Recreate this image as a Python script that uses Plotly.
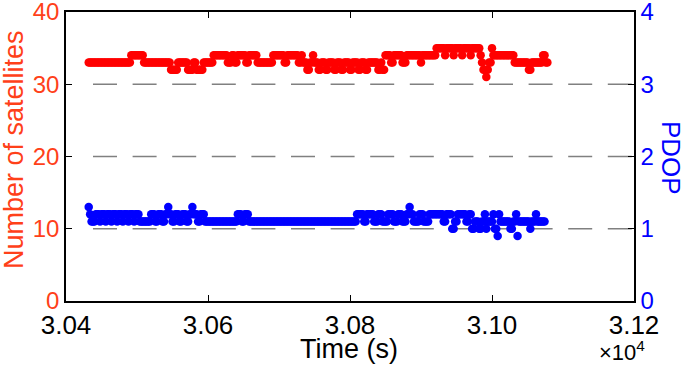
import numpy as np
import plotly.graph_objects as go

# ---- data ----
t_start = 30432.0   # s, first epoch
t_step = 2.0        # s, sampling interval

# Number of satellites: run-length encoded (value, run length in samples)
sat_values = [33, 34, 33, 32, 33, 32, 33, 32, 33, 34, 33, 34, 33, 34, 33, 34, 33,
              34, 33, 34, 33, 34, 33, 32, 33, 34,
              33, 32, 33, 32, 33, 32, 33, 32, 33, 32, 33, 32, 33, 32, 33,
              33, 32, 33, 32,
              34, 33, 34, 33, 34, 33, 34,
              35, 34, 35, 34, 35, 34, 35, 34, 35, 34,
              33, 32, 31, 32, 33, 35, 34,
              33, 32, 33, 34, 33]
sat_counts = [30, 9, 19, 5, 7, 4, 2, 5, 7, 10, 3, 2, 2, 6, 2, 6, 11,
              8, 2, 8, 2, 1, 3, 2, 2, 1,
              3, 2, 3, 2, 4, 2, 3, 2, 4, 2, 4, 2, 3, 2, 4,
              3, 2, 1, 2,
              4, 2, 6, 3, 10, 1, 10,
              6, 1, 5, 1, 5, 1, 5, 1, 6, 1,
              1, 2, 1, 1, 2, 1, 15,
              10, 2, 8, 2, 2]

# PDOP: run-length encoded (value, run length in samples)
pdop_values = [1.3, 1.2, 1.1,
               1.2, 1.1, 1.2, 1.1, 1.2, 1.1, 1.2, 1.1, 1.2, 1.1, 1.2, 1.1, 1.2, 1.1, 1.2, 1.1,
               1.1,
               1.2, 1.1, 1.2, 1.1, 1.2, 1.3, 1.2, 1.1, 1.2, 1.1, 1.2, 1.1, 1.2, 1.3, 1.2, 1.1, 1.2,
               1.1,
               1.2, 1.1, 1.2,
               1.1,
               1.2, 1.1, 1.2,
               1.1, 1.2, 1.1, 1.2, 1.1, 1.2, 1.1, 1.2, 1.3, 1.2, 1.1, 1.2, 1.1,
               1.2, 1.1, 1.2, 1.0, 1.1, 1.2, 1.1, 1.2,
               1.0, 1.1, 1.0, 1.1, 1.2, 1.0, 1.1, 1.2, 1.0, 0.9, 1.2, 1.1, 1.0, 1.1, 1.2, 0.9, 1.1,
               1.0, 1.1, 1.2, 1.1]
pdop_counts = [1, 1, 3,
               3, 1, 3, 1, 3, 1, 3, 1, 3, 1, 3, 1, 3, 1, 3, 1,
               7,
               3, 2, 3, 2, 2, 1, 2, 2, 3, 2, 3, 2, 2, 1, 3, 2, 3,
               23,
               3, 2, 3,
               76,
               5, 2, 5,
               3, 3, 4, 4, 3, 3, 3, 2, 1, 2, 4, 3, 4,
               10, 2, 4, 2, 2, 6, 2, 2,
               2, 3, 2, 2, 1, 1, 4, 1, 2, 1, 1, 7, 2, 2, 1, 1, 8,
               1, 3, 1, 6]

x_range = [30400, 31200]
x_tickvals = [30400, 30600, 30800, 31000, 31200]
x_ticktext = ["3.04", "3.06", "3.08", "3.10", "3.12"]
y1_tickvals = [0, 10, 20, 30, 40]
y2_tickvals = [0, 1, 2, 3, 4]
grid_levels = [10, 20, 30]

# ---- expand runs ----
sat = np.repeat(sat_values, sat_counts)
pdop = np.repeat(pdop_values, pdop_counts)
t_sat = t_start + t_step * np.arange(len(sat))
t_pdop = t_start + t_step * np.arange(len(pdop))

FONT = "Liberation Sans, Arial, Helvetica, sans-serif"
ORANGE = "#ff4019"
RED = "#ff0000"
BLUE = "#0000ff"

fig = go.Figure()
fig.add_trace(go.Scatter(x=t_sat, y=sat, mode="markers", yaxis="y",
                         marker=dict(color=RED, size=8.5, line=dict(width=0)),
                         showlegend=False, hoverinfo="skip"))
fig.add_trace(go.Scatter(x=t_pdop, y=pdop, mode="markers", yaxis="y2",
                         marker=dict(color=BLUE, size=8.5, line=dict(width=0)),
                         showlegend=False, hoverinfo="skip"))

# dashed grid lines (start with a gap, like the reference)
x_gap0 = 27.0 / 568.0
for g in grid_levels:
    fig.add_shape(type="line", xref="paper", yref="y", x0=x_gap0, x1=1, y0=g, y1=g,
                  line=dict(color="#808080", width=1.6, dash="24px,15.6px"), layer="below")

fig.update_layout(
    width=685, height=366,
    margin=dict(l=66, r=51, t=12, b=65, autoexpand=False),
    paper_bgcolor="white", plot_bgcolor="white",
    font=dict(family=FONT, color="black"),
    xaxis=dict(range=x_range, tickvals=x_tickvals, ticktext=x_ticktext,
               automargin=False, ticklabeloverflow="allow",
               showgrid=False, zeroline=False, showline=True, linecolor="black",
               linewidth=1.5, mirror="ticks", ticks="inside", ticklen=6,
               tickcolor="black", tickwidth=1.2,
               tickfont=dict(size=26, color="black", family=FONT)),
    yaxis=dict(range=[0, 40], tickvals=y1_tickvals, showgrid=False, zeroline=False,
               automargin=False, ticklabeloverflow="allow",
               showline=True, linecolor="black", linewidth=1.5, ticks="inside",
               ticklen=6, tickcolor="black", tickwidth=1.2,
               tickfont=dict(size=24, color=ORANGE, family=FONT)),
    yaxis2=dict(range=[0, 4], tickvals=y2_tickvals, overlaying="y", side="right",
                automargin=False, ticklabeloverflow="allow",
                showgrid=False, zeroline=False, showline=True, linecolor="black",
                linewidth=1.5, ticks="inside", ticklen=6, tickcolor="black",
                tickwidth=1.2, tickfont=dict(size=24, color=BLUE, family=FONT)),
)

fig.add_annotation(text="Time (s)", xref="paper", yref="paper", x=(349 - 66) / 568,
                   y=(301 - 349) / 289, xanchor="center", yanchor="middle",
                   showarrow=False, font=dict(size=27, color="black", family=FONT))
fig.add_annotation(text="×10<sup>4</sup>", xref="paper", yref="paper",
                   x=(622 - 66) / 568, y=(301 - 351) / 289, xanchor="center",
                   yanchor="middle", showarrow=False,
                   font=dict(size=22, color="black", family=FONT))
fig.add_annotation(text="Number of satellites", xref="paper", yref="paper",
                   x=(14 - 66) / 568, y=(301 - 150) / 289, xanchor="center",
                   yanchor="middle", textangle=-90, showarrow=False,
                   font=dict(size=27, color=ORANGE, family=FONT))
fig.add_annotation(text="PDOP", xref="paper", yref="paper",
                   x=(671 - 66) / 568, y=(301 - 158) / 289, xanchor="center",
                   yanchor="middle", textangle=90, showarrow=False,
                   font=dict(size=26, color=BLUE, family=FONT))

fig.write_html("out.html", config={"displayModeBar": False},
               post_script="document.body.style.margin='0';")
